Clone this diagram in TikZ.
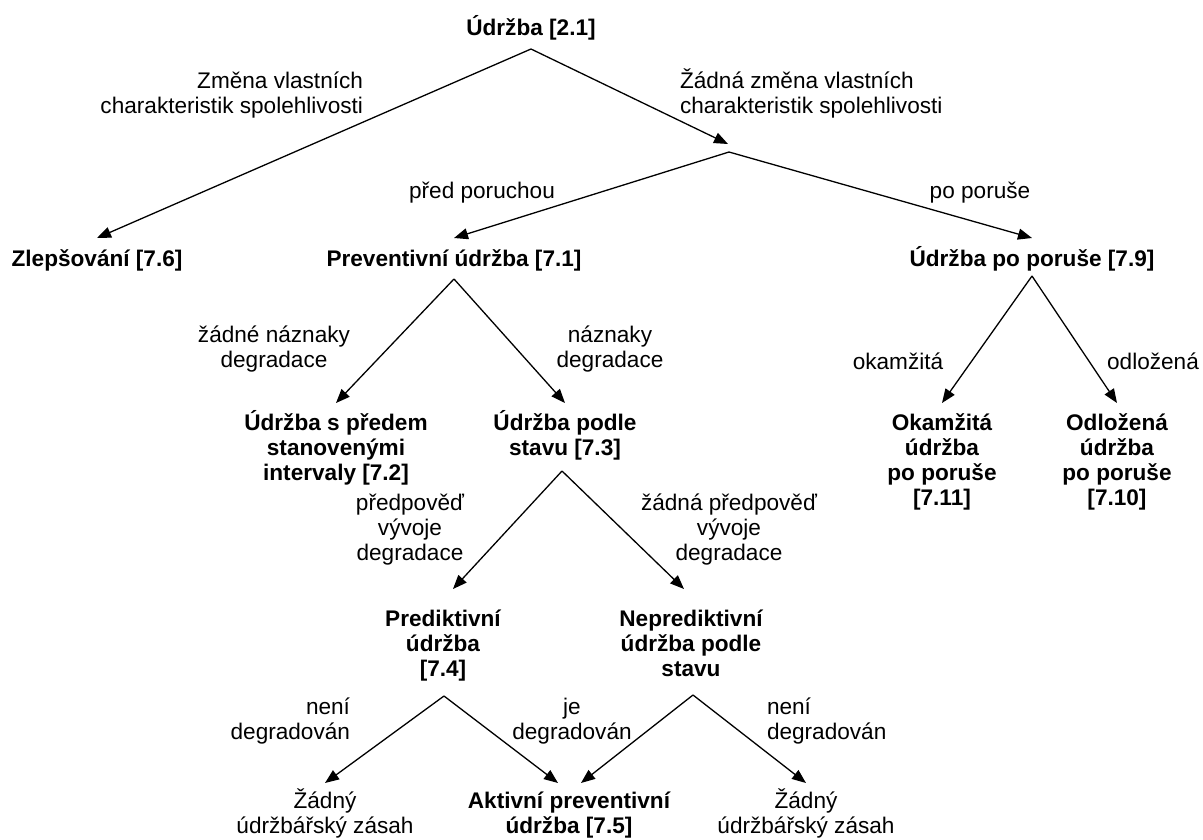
\documentclass[tikz,border=0pt]{standalone}
\usepackage{fontspec}
\setmainfont{Liberation Sans}
\usetikzlibrary{arrows.meta}

% fixed first-line height so that the north anchor sits a known distance above the first baseline
\newcommand{\fs}{\rule{0pt}{24pt}}
\newcommand{\treefont}{\fontsize{22.6}{25}\selectfont}

\tikzset{
  x=1pt, y=-1pt,
  txt/.style={inner sep=0pt, outer sep=0pt, anchor=north, align=center, font=\treefont},
  term/.style={txt, font=\treefont\bfseries},
  lblL/.style={txt, anchor=north east, align=right},
  lblR/.style={txt, anchor=north west, align=left},
  arr/.style={line width=1.3pt, -{Triangle[length=14pt,width=11pt]}},
}

\begin{document}
\lineskiplimit=-50pt
\begin{tikzpicture}
\useasboundingbox (0,0) rectangle (1203,839);

% ---- terms ----
\node[term] (top)    at (531,11)  {\fs Údržba [2.1]};
\node[term] (zlep)   at (97,242)  {\fs Zlepšování [7.6]};
\node[term] (prev)   at (454,242) {\fs Preventivní údržba [7.1]};
\node[term] (upp)    at (1032,242){\fs Údržba po poruše [7.9]};
\node[term] (intv)   at (336,406) {\fs Údržba s předem\\stanovenými\\intervaly [7.2]};
\node[term] (cbm)    at (565,406) {\fs Údržba podle\\stavu [7.3]};
\node[term] (oka)    at (942,406) {\fs Okamžitá\\údržba\\po poruše\\{}[7.11]};
\node[term] (odl)    at (1117,406){\fs Odložená\\údržba\\po poruše\\{}[7.10]};
\node[term] (pred)   at (443,602) {\fs Prediktivní\\údržba\\{}[7.4]};
\node[term] (nepred) at (691,602) {\fs Neprediktivní\\údržba podle\\stavu};
\node[txt]  (none1)  at (325,784) {\fs Žádný\\údržbářský zásah};
\node[term] (akt)    at (569,784) {\fs Aktivní preventivní\\údržba [7.5]};
\node[txt]  (none2)  at (806,784) {\fs Žádný\\údržbářský zásah};

% ---- branch labels ----
\node[lblL] (l1)  at (363,64)  {\fs Změna vlastních\\charakteristik spolehlivosti};
\node[lblR] (l2)  at (680,64)  {\fs Žádná změna vlastních\\charakteristik spolehlivosti};
\node[txt]  (l3)  at (482,174) {\fs před poruchou};
\node[txt]  (l4)  at (980,174) {\fs po poruše};
\node[txt]  (l5)  at (274,318) {\fs žádné náznaky\\degradace};
\node[txt]  (l6)  at (610,318) {\fs náznaky\\degradace};
\node[txt]  (l7)  at (898,345) {\fs okamžitá};
\node[txt]  (l8)  at (1153,345){\fs odložená};
\node[txt]  (l9)  at (410,486) {\fs předpověď\\vývoje\\degradace};
\node[txt]  (l10) at (729,486) {\fs žádná předpověď\\vývoje\\degradace};
\node[lblL] (l11) at (350,690) {\fs není\\degradován};
\node[txt]  (l12) at (572,690) {\fs je\\degradován};
\node[lblR] (l13) at (767,690) {\fs není\\degradován};

% ---- branching points ----
\coordinate (a0) at (531,49);
\coordinate (h)  at (728,144);
\coordinate (a1) at (729,152);
\coordinate (a2) at (454,279);
\coordinate (a3) at (1032,276);
\coordinate (a4) at (562,471);
\coordinate (a5) at (444,696);
\coordinate (a6) at (693,695);

% ---- connectors ----
\draw[arr] (a0) -- ([yshift=4pt]zlep.north);
\draw[arr] (a0) -- (h);
\draw[arr] (a1) -- ([yshift=4pt]prev.north);
\draw[arr] (a1) -- ([yshift=4pt]upp.north);
\draw[arr] (a2) -- ([yshift=3pt]intv.north);
\draw[arr] (a2) -- ([yshift=3pt]cbm.north);
\draw[arr] (a3) -- ([yshift=3pt]oka.north);
\draw[arr] (a3) -- ([yshift=3pt]odl.north);
\draw[arr] (a4) -- ([xshift=10pt,yshift=13pt]pred.north);
\draw[arr] (a4) -- ([xshift=-7pt,yshift=13pt]nepred.north);
\draw[arr] (a5) -- ([yshift=1pt]none1.north);
\draw[arr] (a5) -- ([xshift=-11pt,yshift=1pt]akt.north);
\draw[arr] (a6) -- ([xshift=12pt,yshift=1pt]akt.north);
\draw[arr] (a6) -- ([yshift=1pt]none2.north);
\end{tikzpicture}
\end{document}
